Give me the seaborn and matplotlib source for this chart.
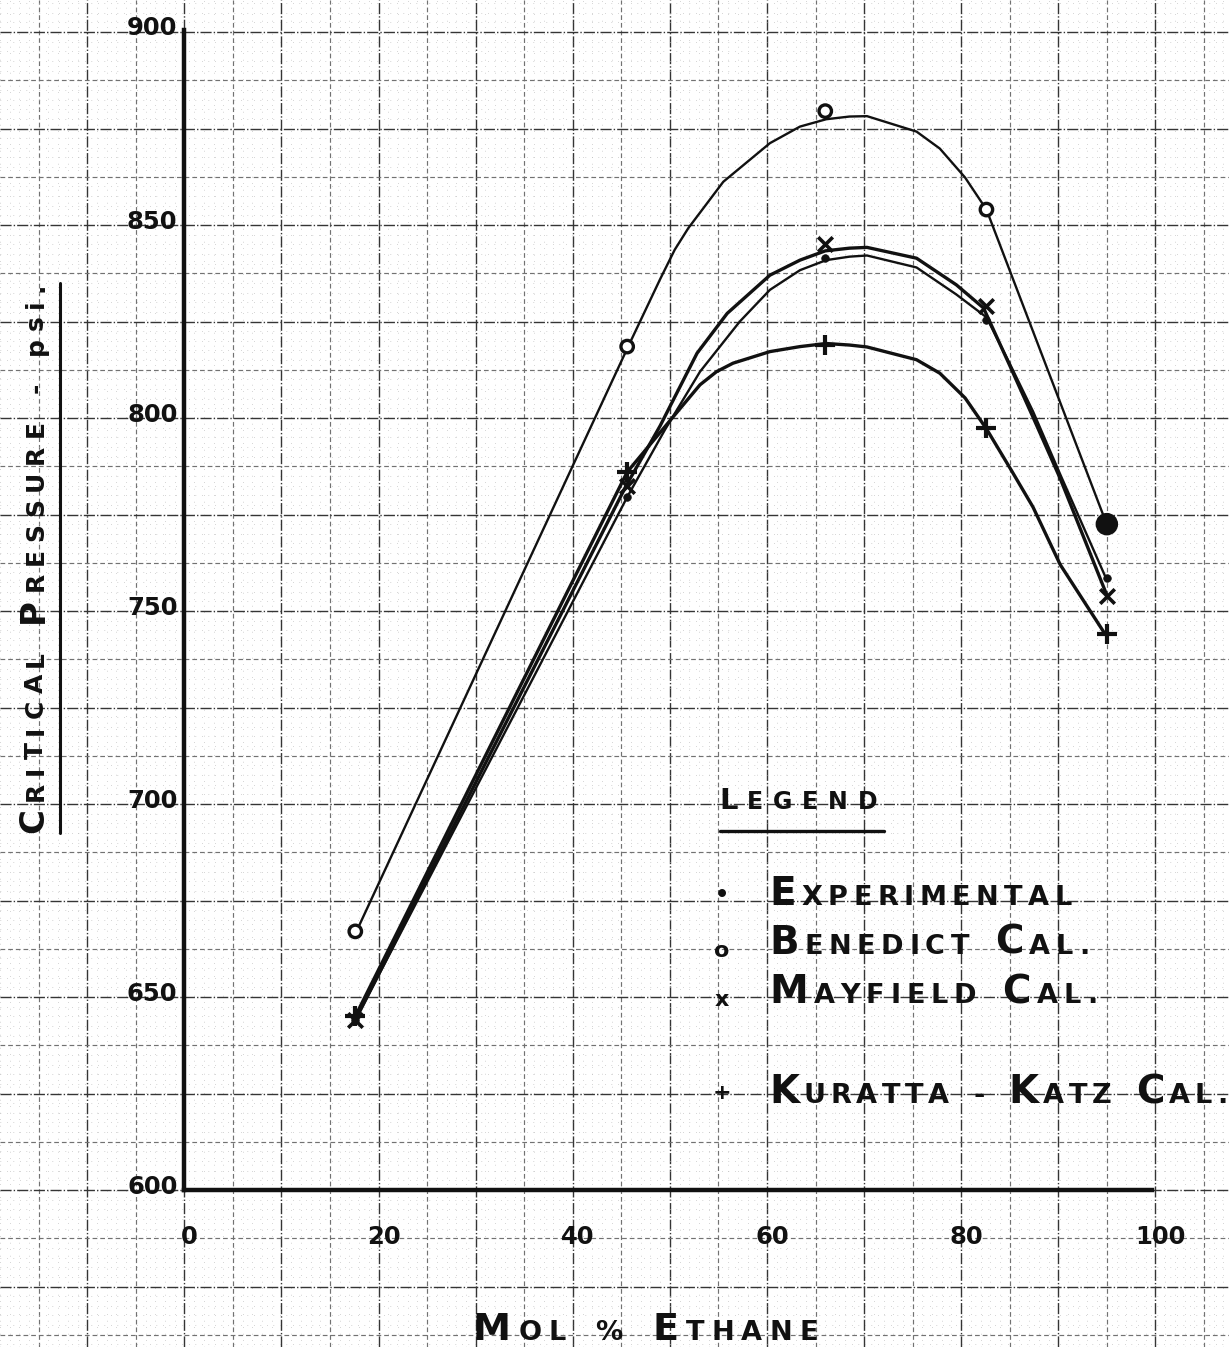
import matplotlib
matplotlib.use("Agg")
import matplotlib.pyplot as plt
import matplotlib.transforms as mtransforms
from matplotlib.font_manager import FontProperties
import numpy as np
import pandas as pd
import seaborn as sns

# ---------------- data ----------------
x_points = [17.6, 45.6, 66.0, 82.6, 95.0]
experimental = [644, 779.5, 841.5, 825.5, 758.5]
benedict = [667, 818.5, 879.5, 854, 772.5]
mayfield = [644, 782.5, 845, 829, 754]
kuratta_katz = [645, 786, 819, 797.5, 744]

# hand-drawn curves
benedict_curve_x = [17.7, 45.7, 49.0, 50.5, 51.9, 55.5, 60.3, 63.4, 66.1, 68.5, 70.3, 75.4, 77.8, 80.4, 82.6, 95.0]
benedict_curve_y = [666.9, 818.5, 836.0, 843.6, 849.2, 861.2, 871.2, 875.5, 877.4, 878.1, 878.2, 874.2, 869.8, 862.3, 854.0, 772.4]
mayfield_curve_x = [17.6, 45.5, 49.0, 52.8, 55.9, 60.3, 63.4, 66.0, 68.5, 70.3, 75.4, 79.5, 82.3, 85.0, 87.4, 90.2, 95.0]
mayfield_curve_y = [644, 782.5, 798.0, 816.8, 827.1, 837.0, 840.9, 843.3, 844.0, 844.2, 841.4, 834.5, 828.5, 813.6, 800.2, 784.3, 754.1]
experimental_curve_x = [17.6, 45.6, 49.5, 53.1, 57.2, 60.3, 63.4, 66.1, 68.5, 70.3, 75.4, 79.5, 82.6, 85.0, 87.4, 90.2, 95.0]
experimental_curve_y = [644, 779.5, 797.0, 812.0, 825.0, 833.2, 838.3, 840.9, 841.8, 842.1, 839.0, 832.0, 826.1, 814.1, 801.7, 785.4, 758.0]
kuratta_curve_x = [17.6, 45.6, 50.2, 53.1, 54.8, 56.5, 60.3, 63.4, 66.1, 68.5, 70.3, 75.4, 77.8, 80.4, 82.6, 85.2, 87.4, 90.2, 94.8]
kuratta_curve_y = [645, 786, 799.9, 808.6, 812.0, 814.2, 817.2, 818.5, 819.3, 818.9, 818.4, 815.1, 811.6, 805.2, 797.2, 786.3, 776.9, 762.0, 744.1]

x_ticks = [0, 20, 40, 60, 80, 100]
y_ticks = [600, 650, 700, 750, 800, 850, 900]
x_label = "MOL % ETHANE"
y_label = "CRITICAL PRESSURE - psi."
legend_title = "LEGEND"
legend_symbols = ["\u2022", "o", "x", "+"]
legend_labels = ["EXPERIMENTAL", "BENEDICT CAL.", "MAYFIELD CAL.", "KURATTA - KATZ CAL."]

# ---------------- figure ----------------
W, H, DPI = 1229, 1347, 100
INK = "#111111"
sns.set_style("white")
plt.rcParams["font.family"] = ["DejaVu Sans"]

fig = plt.figure(figsize=(W / DPI, H / DPI), dpi=DPI)
fig.patch.set_facecolor("white")
ax = fig.add_axes([0, 0, 1, 1])
ax.set_facecolor("white")
ax.set_xlim(-18.99, 107.58)
ax.set_ylim(559.33, 908.29)

# graph paper
for gx in range(-19, 108):
    if gx % 10 == 0:
        ax.axvline(gx, color="#353535", lw=1.0, dashes=(8, 1.5, 1, 1.5), zorder=0)
    elif gx % 5 == 0:
        ax.axvline(gx, color="#727272", lw=0.85, dashes=(4, 2.5), zorder=0)
    else:
        ax.axvline(gx, color="#b8b8b8", lw=0.6, dashes=(0.8, 7), zorder=0)
for gy in np.arange(560, 910, 2.5):
    r = (gy - 600) % 25
    if abs(r) < 1e-6:
        ax.axhline(gy, color="#353535", lw=1.0, dashes=(8, 1.5, 1, 1.5), zorder=0)
    elif abs(r - 12.5) < 1e-6:
        ax.axhline(gy, color="#727272", lw=0.85, dashes=(4, 2.5), zorder=0)
    else:
        ax.axhline(gy, color="#b8b8b8", lw=0.6, dashes=(0.8, 7), zorder=0)

# curves
curves = [
    (benedict_curve_x, benedict_curve_y, 1.7),
    (experimental_curve_x, experimental_curve_y, 1.7),
    (mayfield_curve_x, mayfield_curve_y, 2.4),
    (kuratta_curve_x, kuratta_curve_y, 2.4),
]
for cx, cy, lw in curves:
    sns.lineplot(x=cx, y=cy, ax=ax, color=INK, linewidth=lw, sort=False,
                 estimator=None, zorder=3)
for ln in ax.get_lines():
    ln.set_solid_joinstyle("round")
    ln.set_solid_capstyle("round")

# markers
sns.scatterplot(x=x_points, y=benedict, ax=ax, marker="o", s=80,
                facecolor="white", edgecolor=INK, linewidth=2.4, zorder=5)
bcoll = ax.collections[-1]
# the last Benedict point is inked in solid and larger on the sheet
bcoll.set_facecolors(["white"] * (len(x_points) - 1) + [INK])
bcoll.set_sizes([80] * (len(x_points) - 1) + [190])
sns.scatterplot(x=x_points, y=experimental, ax=ax, marker="o", s=30,
                color=INK, edgecolor=INK, linewidth=0.5, zorder=5)
sns.scatterplot(x=x_points, y=mayfield, ax=ax, marker="x", s=110,
                color=INK, linewidth=2.6, zorder=5)
sns.scatterplot(x=x_points, y=kuratta_katz, ax=ax, marker="+", s=190,
                color=INK, linewidth=3.0, zorder=5)

# axes lines
for side in ["top", "right"]:
    ax.spines[side].set_visible(False)
ax.spines["left"].set_position(("data", 0))
ax.spines["left"].set_bounds(600, 900.5)
ax.spines["bottom"].set_position(("data", 600))
ax.spines["bottom"].set_bounds(0, 99.6)
for side in ["left", "bottom"]:
    ax.spines[side].set_linewidth(3.2)
    ax.spines[side].set_color(INK)
    ax.spines[side].set_zorder(6)

ax.set_xticks(x_ticks)
ax.set_yticks(y_ticks)
ax.set_xticklabels([str(v) for v in x_ticks])
ax.set_yticklabels([str(v) for v in y_ticks])
ax.tick_params(axis="both", length=0, colors=INK)
ax.tick_params(axis="y", pad=5, labelsize=17.5)
ax.tick_params(axis="x", pad=25, labelsize=17.5)
for lab in ax.get_yticklabels() + ax.get_xticklabels():
    lab.set_fontweight("bold")
up = mtransforms.ScaledTranslation(0, 6 / DPI, fig.dpi_scale_trans)
for lab in ax.get_yticklabels():
    lab.set_transform(lab.get_transform() + up)
right = mtransforms.ScaledTranslation(5 / DPI, 0, fig.dpi_scale_trans)
for lab in ax.get_xticklabels():
    lab.set_transform(lab.get_transform() + right)
ax.set_xlabel("")
ax.set_ylabel("")

# ---------------- hand-lettered small-caps text ----------------
renderer = fig.canvas.get_renderer()


def hand_letter(text, x0, y0, length, big, small, rotation=0, weight="bold",
                space_frac=0.55):
    """Place small-caps text; x0,y0 = start of baseline in picture px (y from top)."""
    items = []
    for wi, word in enumerate(text.split(" ")):
        if wi > 0:
            items.append(None)
        for j, ch in enumerate(word):
            size = big if (j == 0 and ch.isalpha() and ch.isupper()) else small
            fp = FontProperties(family="DejaVu Sans", weight=weight, size=size)
            w, h, d = renderer.get_text_width_height_descent(ch, fp, ismath=False)
            items.append((ch, fp, w))
    space_w = small * DPI / 72 * space_frac
    n_sp = sum(1 for it in items if it is None)
    total = sum(it[2] for it in items if it is not None) + n_sp * space_w
    track = (length - total) / max(len(items) - 1, 1)
    pos = 0.0
    for it in items:
        if it is None:
            pos += space_w + track
            continue
        ch, fp, w = it
        if rotation == 0:
            fig.text((x0 + pos) / W, (H - y0) / H, ch, fontproperties=fp,
                     color=INK, ha="left", va="baseline")
        else:
            fig.text(x0 / W, (H - y0 + pos) / H, ch, fontproperties=fp,
                     color=INK, rotation=90, rotation_mode="anchor",
                     ha="left", va="baseline")
        pos += w + track


# y-axis title and its underline
hand_letter(y_label, 43, 833, 550, 24.5, 18.0, rotation=90)
fig.add_artist(plt.Line2D([60 / W, 60 / W], [(H - 833) / H, (H - 283) / H],
                          color=INK, lw=2.2))

# x-axis title
hand_letter(x_label, 473, 1340, 345, 27.5, 19.5)

# legend
hand_letter(legend_title, 719, 809, 158, 21, 17)
fig.add_artist(plt.Line2D([720 / W, 884 / W], [(H - 831) / H, (H - 831) / H],
                          color=INK, lw=2.4))
legend_rows = [(895, 905, 1072), (951, 954, 1089), (1000, 1003, 1097), (1093, 1103, 1227)]
for sym, lab, (sy, base, xend) in zip(legend_symbols, legend_labels, legend_rows):
    fig.text(722 / W, (H - sy) / H, sym, color=INK, fontsize=16, fontweight="bold",
             ha="center", va="center")
    hand_letter(lab, 769, base, xend - 769, 28, 19.5)

fig.savefig("out.png", dpi=DPI, facecolor="white")
